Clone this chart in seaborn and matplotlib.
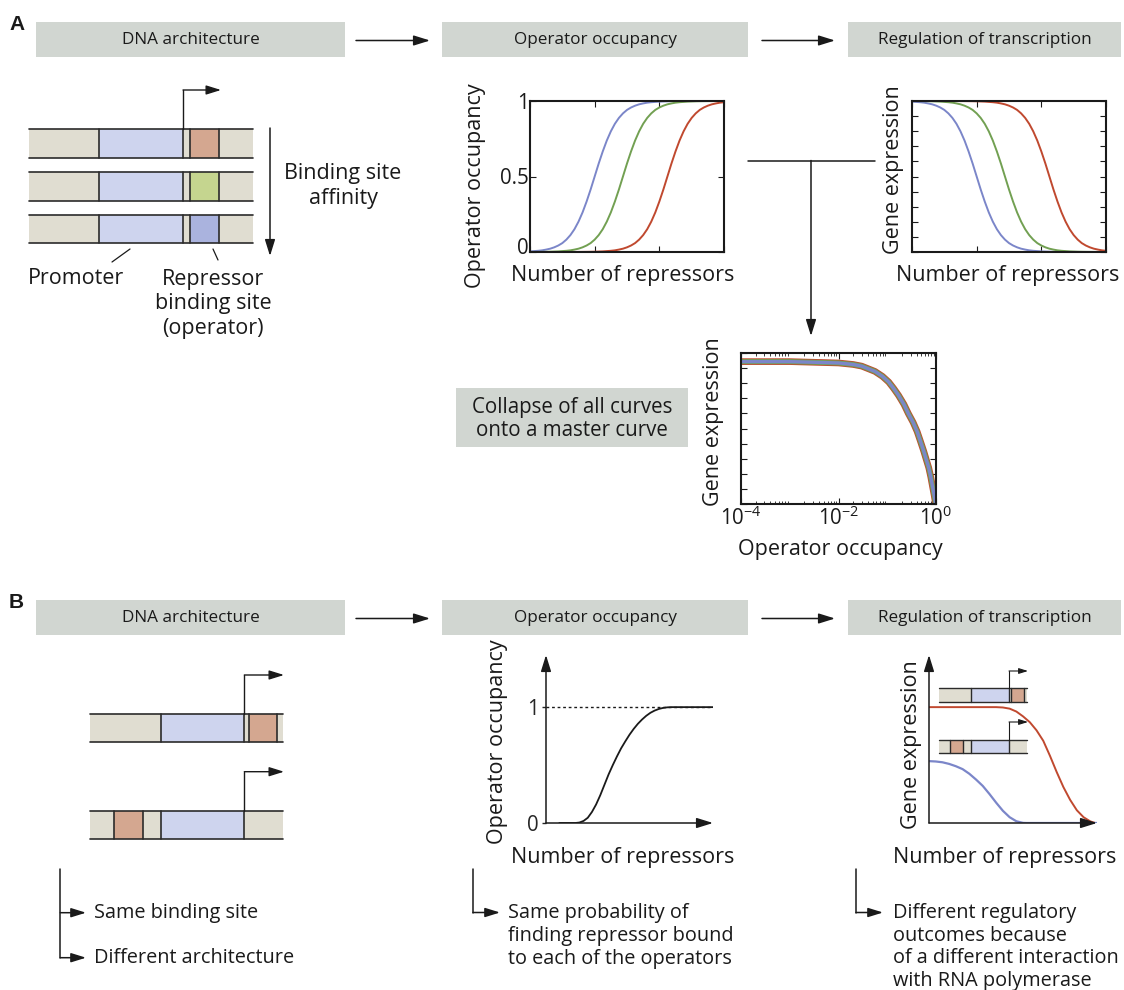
import numpy as np
import matplotlib
matplotlib.use("Agg")
import matplotlib.pyplot as plt
import matplotlib.transforms as mtrans
import seaborn as sns
from matplotlib.patches import Rectangle

# ---------------- data ----------------
rep_log10 = [0.0, 0.125, 0.25, 0.375, 0.5, 0.625, 0.75, 0.875, 1.0, 1.125, 1.25, 1.375,
             1.5, 1.625, 1.75, 1.875, 2.0, 2.125, 2.25, 2.375, 2.5, 2.625, 2.75, 2.875,
             3.0, 3.125, 3.25, 3.375, 3.5, 3.625, 3.75, 3.875, 4.0, 4.125, 4.25, 4.375,
             4.5, 4.625, 4.75, 4.875, 5.0, 5.125, 5.25, 5.375, 5.5, 5.625, 5.75, 5.875, 6.0]
occ_blue = [0.004, 0.006, 0.008, 0.011, 0.016, 0.022, 0.031, 0.043, 0.059, 0.082,
            0.112, 0.151, 0.201, 0.262, 0.334, 0.414, 0.5, 0.586, 0.666, 0.738,
            0.799, 0.849, 0.888, 0.918, 0.941, 0.957, 0.969, 0.978, 0.984, 0.989,
            0.992, 0.994, 0.996, 0.997, 0.998, 0.9986, 0.999, 0.9993, 0.9995, 0.9996,
            0.9997, 0.9998, 0.9999, 1.0, 1.0, 1.0, 1.0, 1.0, 1.0]
occ_green = [0.0004, 0.0005, 0.0007, 0.001, 0.0014, 0.002, 0.003, 0.004, 0.006, 0.008,
             0.011, 0.016, 0.022, 0.031, 0.043, 0.059, 0.082, 0.112, 0.151, 0.201,
             0.262, 0.334, 0.414, 0.5, 0.586, 0.666, 0.738, 0.799, 0.849, 0.888,
             0.918, 0.941, 0.957, 0.969, 0.978, 0.984, 0.989, 0.992, 0.994, 0.996,
             0.997, 0.998, 0.9986, 0.999, 0.9993, 0.9995, 0.9996, 0.9997, 0.9998]
occ_red = [0.0, 0.0, 0.0, 0.0, 0.0, 0.0, 0.0, 0.0001, 0.0001, 0.0002,
           0.0003, 0.0004, 0.0005, 0.0007, 0.001, 0.0014, 0.002, 0.003, 0.004, 0.006,
           0.008, 0.011, 0.016, 0.022, 0.031, 0.043, 0.059, 0.082, 0.112, 0.151,
           0.201, 0.262, 0.334, 0.414, 0.5, 0.586, 0.666, 0.738, 0.799, 0.849,
           0.888, 0.918, 0.941, 0.957, 0.969, 0.978, 0.984, 0.989, 0.992]
expr_blue = [0.996, 0.994, 0.992, 0.989, 0.984, 0.978, 0.969, 0.957, 0.941, 0.918,
             0.888, 0.849, 0.799, 0.738, 0.666, 0.586, 0.5, 0.414, 0.334, 0.262,
             0.201, 0.151, 0.112, 0.082, 0.059, 0.043, 0.031, 0.022, 0.016, 0.011,
             0.008, 0.006, 0.004, 0.003, 0.002, 0.0014, 0.001, 0.0007, 0.0005, 0.0004,
             0.0003, 0.0002, 0.0001, 0.0, 0.0, 0.0, 0.0, 0.0, 0.0]
expr_green = [0.9996, 0.9995, 0.9993, 0.999, 0.9986, 0.998, 0.997, 0.996, 0.994, 0.992,
              0.989, 0.984, 0.978, 0.969, 0.957, 0.941, 0.918, 0.888, 0.849, 0.799,
              0.738, 0.666, 0.586, 0.5, 0.414, 0.334, 0.262, 0.201, 0.151, 0.112,
              0.082, 0.059, 0.043, 0.031, 0.022, 0.016, 0.011, 0.008, 0.006, 0.004,
              0.003, 0.002, 0.0014, 0.001, 0.0007, 0.0005, 0.0004, 0.0003, 0.0002]
expr_red = [1.0, 1.0, 1.0, 1.0, 1.0, 1.0, 1.0, 0.9999, 0.9999, 0.9998,
            0.9997, 0.9996, 0.9995, 0.9993, 0.999, 0.9986, 0.998, 0.997, 0.996, 0.994,
            0.992, 0.989, 0.984, 0.978, 0.969, 0.957, 0.941, 0.918, 0.888, 0.849,
            0.799, 0.738, 0.666, 0.586, 0.5, 0.414, 0.334, 0.262, 0.201, 0.151,
            0.112, 0.082, 0.059, 0.043, 0.031, 0.022, 0.016, 0.011, 0.008]

master_occ = [1e-4, 1e-3, 0.01, 0.02, 0.03, 0.056, 0.08, 0.107, 0.135, 0.17, 0.22, 0.27,
              0.34, 0.41, 0.48, 0.56, 0.63, 0.71, 0.78, 0.855, 0.92, 0.97, 1.0]
master_expr = [0.943, 0.943, 0.934, 0.924, 0.913, 0.878, 0.845, 0.808, 0.766, 0.72, 0.66,
               0.60, 0.54, 0.48, 0.415, 0.35, 0.295, 0.24, 0.18, 0.11, 0.055, 0.01, 0.0]

b_occ_x = [0.08, 0.15, 0.175, 0.2, 0.225, 0.25, 0.275, 0.3, 0.325, 0.35, 0.375, 0.4, 0.425,
           0.45, 0.475, 0.5, 0.525, 0.55, 0.575, 0.6, 0.625, 0.65, 0.675, 0.7, 0.725, 0.75, 1.0]
b_occ_y = [0.0, 0.0, 0.0, 0.004, 0.018, 0.045, 0.095, 0.16, 0.24, 0.33, 0.42, 0.5, 0.575,
           0.645, 0.705, 0.762, 0.812, 0.856, 0.893, 0.925, 0.951, 0.97, 0.984, 0.993, 0.998,
           1.0, 1.0]

b_red_x = [0.0, 0.4, 0.44, 0.48, 0.52, 0.56, 0.6, 0.64, 0.68, 0.72, 0.76, 0.8, 0.84, 0.88,
           0.92, 0.96, 0.99]
b_red_y = [1.0, 1.0, 0.997, 0.987, 0.962, 0.92, 0.87, 0.80, 0.71, 0.58, 0.44, 0.31, 0.2,
           0.11, 0.05, 0.014, 0.0]
b_blue_x = [0.0, 0.04, 0.08, 0.12, 0.16, 0.2, 0.24, 0.28, 0.32, 0.36, 0.4, 0.44, 0.48,
            0.52, 0.56, 0.58, 1.0]
b_blue_y = [0.534, 0.531, 0.524, 0.51, 0.49, 0.465, 0.425, 0.375, 0.32, 0.25, 0.175, 0.105,
            0.05, 0.015, 0.001, 0.0, 0.0]

headers = ["DNA architecture", "Operator occupancy", "Regulation of transcription"]
master_ticks = [1e-4, 1e-2, 1.0]
master_ticklabels = [r"$\mathregular{10^{-4}}$", r"$\mathregular{10^{-2}}$", r"$\mathregular{10^{0}}$"]

# ---------------- style ----------------
sns.set_theme(style="white")
plt.rcParams["font.family"] = ["Open Sans", "DejaVu Sans"]
plt.rcParams["mathtext.fontset"] = "custom"
plt.rcParams["mathtext.rm"] = "Open Sans"
plt.rcParams["text.color"] = "#1a1a1a"

C_BLUE = "#7b86c9"
C_GREEN = "#72a052"
C_RED = "#c0492f"
BEIGE = "#e0ddd1"
PROM = "#ced4ee"
OP_RED = "#d4a790"
OP_GREEN = "#c5d58f"
OP_BLUE = "#aab3de"
BOX = "#d1d6d1"
EDGE = "#2b2b2b"
FS_LAB = 15.5
FS_TXT = 14.3
FS_TICK = 14.8

W, H = 1124, 990
fig = plt.figure(figsize=(W / 100, H / 100), dpi=100)
ov = fig.add_axes([0, 0, 1, 1])
ov.set_xlim(0, W)
ov.set_ylim(H, 0)
ov.axis("off")
ov.set_zorder(10)
ov.patch.set_alpha(0)


def pax(x0, y0, x1, y1):
    a = fig.add_axes([x0 / W, 1 - y1 / H, (x1 - x0) / W, (y1 - y0) / H])
    a.patch.set_alpha(0)
    return a


def labels(a, box, xl, xpos, yl, ypos, fs=FS_LAB):
    x0, y0, x1, y1 = box
    a.set_xlabel(xl, fontsize=fs, va="center", color="#1a1a1a")
    a.xaxis.set_label_coords((xpos[0] - x0) / (x1 - x0), (y1 - xpos[1]) / (y1 - y0))
    a.set_ylabel(yl, fontsize=fs, va="center", color="#1a1a1a")
    a.yaxis.set_label_coords((ypos[0] - x0) / (x1 - x0), (y1 - ypos[1]) / (y1 - y0))


def arrow(x0, y0, x1, y1, ms=11, lw=1.1):
    ov.annotate("", xy=(x1, y1), xytext=(x0, y0),
                arrowprops=dict(arrowstyle="-|>,head_length=0.9,head_width=0.28",
                                color="k", lw=lw, mutation_scale=ms,
                                shrinkA=0, shrinkB=0))


def dna(y0, y1, segs, lines, lw=1.2):
    for s, e, c in segs:
        ov.add_patch(Rectangle((s, y0), e - s, y1 - y0, facecolor=c, edgecolor="none"))
    xa, xb = segs[0][0], segs[-1][1]
    ov.plot([xa, xb], [y0, y0], color=EDGE, lw=lw)
    ov.plot([xa, xb], [y1, y1], color=EDGE, lw=lw)
    for x in lines:
        ov.plot([x, x], [y0, y1], color=EDGE, lw=lw)


def tss(x, ybar, ytop, xend, ms=9, lw=1.0):
    ov.plot([x, x], [ybar, ytop], color="k", lw=lw)
    arrow(x, ytop, xend, ytop, ms=ms, lw=lw)


# ---------------- header boxes ----------------
box_x = [(36, 345), (442, 748), (848, 1121)]
for ytop, ybot in [(22, 57), (600, 635)]:
    for (xa, xb), t in zip(box_x, headers):
        ov.add_patch(Rectangle((xa, ytop), xb - xa, ybot - ytop, facecolor=BOX, edgecolor="none"))
        ov.text((xa + xb) / 2, (ytop + ybot) / 2 + 1, t, ha="center", va="center", fontsize=12.3)
    ym = (ytop + ybot) / 2 + 1
    arrow(356, ym, 430, ym)
    arrow(762, ym, 835, ym)

ov.text(9, 25, "A", fontsize=15, fontweight="bold", family="Liberation Sans", va="center")
ov.text(9, 603, "B", fontsize=15, fontweight="bold", family="Liberation Sans", va="center")

# ---------------- panel A DNA ----------------
for (ya, yb), opc in zip([(129.3, 157.7), (172.3, 200.7), (215, 243.3)], [OP_RED, OP_GREEN, OP_BLUE]):
    dna(ya, yb, [(28.7, 98.7, BEIGE), (98.7, 183, PROM), (183, 189.7, BEIGE),
                 (189.7, 219, opc), (219, 252.7, BEIGE)], [98.7, 183, 189.7, 219])
tss(183, 129.3, 90, 221, ms=10)
arrow(270, 128, 270, 256)
ov.text(343, 186, "Binding site\naffinity", ha="center", va="center", fontsize=15.5, linespacing=1.22)
ov.plot([130, 112], [249, 262], color="k", lw=0.9)
ov.plot([213, 218], [249, 260], color="k", lw=0.9)
ov.text(28, 279, "Promoter", ha="left", va="center", fontsize=15.5)
ov.text(213, 304, "Repressor\nbinding site\n(operator)", ha="center", va="center",
        fontsize=15.5, linespacing=1.22)

# connector to master curve
ov.plot([748, 875], [160.5, 160.5], color="k", lw=1.1)
arrow(811, 160.5, 811, 336)

ov.add_patch(Rectangle((456, 388), 232, 59, facecolor=BOX, edgecolor="none"))
ov.text(572, 419, "Collapse of all curves\nonto a master curve", ha="center", va="center",
        fontsize=14.8, linespacing=1.17)


def style_box(a):
    for s in a.spines.values():
        s.set_visible(True)
        s.set_color("k")
        s.set_linewidth(1.5)
    a.tick_params(which="both", direction="in", top=True, right=True, bottom=True, left=True,
                  colors="k", labelcolor="#1a1a1a")
    a.tick_params(which="major", length=4, width=0.8)
    a.tick_params(which="minor", length=2, width=0.6)


# ---------------- panel A plots ----------------
rep = 10 ** np.array(rep_log10)
box1 = (530, 101, 724, 252)
a1 = pax(*box1)
for y, c in [(occ_blue, C_BLUE), (occ_green, C_GREEN), (occ_red, C_RED)]:
    sns.lineplot(x=rep, y=y, ax=a1, color=c, lw=1.4)
a1.set_xscale("log")
a1.set_xlim(1, 1e6)
a1.set_ylim(0, 1)
style_box(a1)
a1.set_yticks([0, 0.5, 1])
a1.set_yticklabels(["0", "0.5", "1"], fontsize=FS_TICK)
a1.tick_params(axis="y", pad=1)
a1.tick_params(axis="x", labelbottom=False)
zero_lab = a1.get_yticklabels()[0]
zero_lab.set_transform(zero_lab.get_transform()
                       + mtrans.ScaledTranslation(0, 4.5 / 72, fig.dpi_scale_trans))
labels(a1, box1, "Number of repressors", (623, 275), "Operator occupancy", (476, 186))

box2 = (912, 101, 1106, 252)
a2 = pax(*box2)
for y, c in [(expr_blue, C_BLUE), (expr_green, C_GREEN), (expr_red, C_RED)]:
    sns.lineplot(x=rep, y=y, ax=a2, color=c, lw=1.4)
a2.set_xscale("log")
a2.set_xlim(1, 1e6)
a2.set_ylim(0, 1)
style_box(a2)
a2.set_yticks(np.linspace(0, 1, 11))
a2.tick_params(labelleft=False, labelbottom=False)
labels(a2, box2, "Number of repressors", (1008, 275), "Gene expression", (893, 170))

box3 = (741, 353, 936, 504)
a3 = pax(*box3)
for c, lw in [(C_RED, 4.8), (C_GREEN, 3.6), (C_BLUE, 2.4)]:
    sns.lineplot(x=master_occ, y=master_expr, ax=a3, color=c, lw=lw)
a3.set_xscale("log")
a3.set_xlim(1e-4, 1)
a3.set_ylim(0, 1)
style_box(a3)
a3.set_xticks(master_ticks)
a3.set_xticklabels(master_ticklabels, fontsize=FS_TICK)
a3.tick_params(axis="x", pad=2)
a3.set_yticks(np.linspace(0, 1, 11))
a3.tick_params(labelleft=False)
labels(a3, box3, "Operator occupancy", (840, 550), "Gene expression", (714, 422))

# ---------------- panel B DNA ----------------
dna(714, 742.3, [(90, 160.7, BEIGE), (160.7, 244.3, PROM), (244.3, 248.7, BEIGE),
                 (248.7, 277.3, OP_RED), (277.3, 283.3, BEIGE)], [160.7, 244.3, 248.7, 277.3])
tss(244.3, 714, 675, 284, ms=10)
dna(810.7, 838.7, [(90, 114.3, BEIGE), (114.3, 143.3, OP_RED), (143.3, 160.7, BEIGE),
                   (160.7, 244.3, PROM), (244.3, 283.3, BEIGE)], [114.3, 143.3, 160.7, 244.3])
tss(244.3, 810.7, 771.7, 284, ms=10)

# brackets
ov.plot([60.3, 60.3], [869, 957.7], color="k", lw=1.1)
arrow(60.3, 912.7, 86, 912.7, ms=10)
arrow(60.3, 957.7, 86, 957.7, ms=10)
ov.text(94, 913, "Same binding site", ha="left", va="center", fontsize=FS_TXT)
ov.text(94, 958, "Different architecture", ha="left", va="center", fontsize=FS_TXT)

ov.plot([473, 473], [869, 912.5], color="k", lw=1.1)
arrow(473, 912.5, 500, 912.5, ms=10)
ov.text(508, 936, "Same probability of\nfinding repressor bound\nto each of the operators",
        ha="left", va="center", fontsize=FS_TXT, linespacing=1.18)

ov.plot([856, 856], [869, 912.5], color="k", lw=1.1)
arrow(856, 912.5, 883, 912.5, ms=10)
ov.text(893, 947, "Different regulatory\noutcomes because\nof a different interaction\nwith RNA polymerase",
        ha="left", va="center", fontsize=FS_TXT, linespacing=1.18)


def arrow_axes(a):
    for s in a.spines.values():
        s.set_visible(False)
    kw = dict(arrowstyle="-|>,head_length=0.9,head_width=0.28", color="k", lw=1.1,
              mutation_scale=11, shrinkA=0, shrinkB=0)
    a.annotate("", xy=(1, 0), xytext=(0, 0), xycoords="axes fraction", arrowprops=kw)
    a.annotate("", xy=(0, 1), xytext=(0, 0), xycoords="axes fraction", arrowprops=kw)
    a.set_xticks([])


# ---------------- panel B plots ----------------
box4 = (546, 655, 713, 823)
a4 = pax(*box4)
sns.lineplot(x=b_occ_x, y=b_occ_y, ax=a4, color="k", lw=1.3)
a4.axhline(1, color="k", lw=1.0, ls=(0, (2, 2)), zorder=1)
a4.set_xlim(0, 1)
a4.set_ylim(0, 1.45)
arrow_axes(a4)
a4.set_yticks([0, 1])
a4.set_yticklabels(["0", "1"], fontsize=FS_TICK)
a4.tick_params(axis="y", length=3, width=1, direction="out", left=True, pad=2)
labels(a4, box4, "Number of repressors", (623, 857), "Operator occupancy", (497, 742))

box5 = (929, 655, 1097, 823)
a5 = pax(*box5)
sns.lineplot(x=b_red_x, y=b_red_y, ax=a5, color=C_RED, lw=1.4)
sns.lineplot(x=b_blue_x, y=b_blue_y, ax=a5, color=C_BLUE, lw=1.6)
a5.set_xlim(0, 1)
a5.set_ylim(0, 1.45)
arrow_axes(a5)
a5.set_yticks([])
labels(a5, box5, "Number of repressors", (1005, 857), "Gene expression", (911, 745))

# insets in panel B right
dna(688, 702, [(939, 971, BEIGE), (971, 1009, PROM), (1009, 1011, BEIGE),
               (1011, 1024, OP_RED), (1024, 1027, BEIGE)], [971, 1009, 1011, 1024], lw=1.0)
tss(1009, 688, 671, 1028, ms=6, lw=0.8)
dna(740, 753, [(939, 950, BEIGE), (950, 963, OP_RED), (963, 971, BEIGE),
               (971, 1009, PROM), (1009, 1027, BEIGE)], [950, 963, 971, 1009], lw=1.0)
tss(1009, 740, 722, 1028, ms=6, lw=0.8)

fig.savefig("out.png", dpi=100)
